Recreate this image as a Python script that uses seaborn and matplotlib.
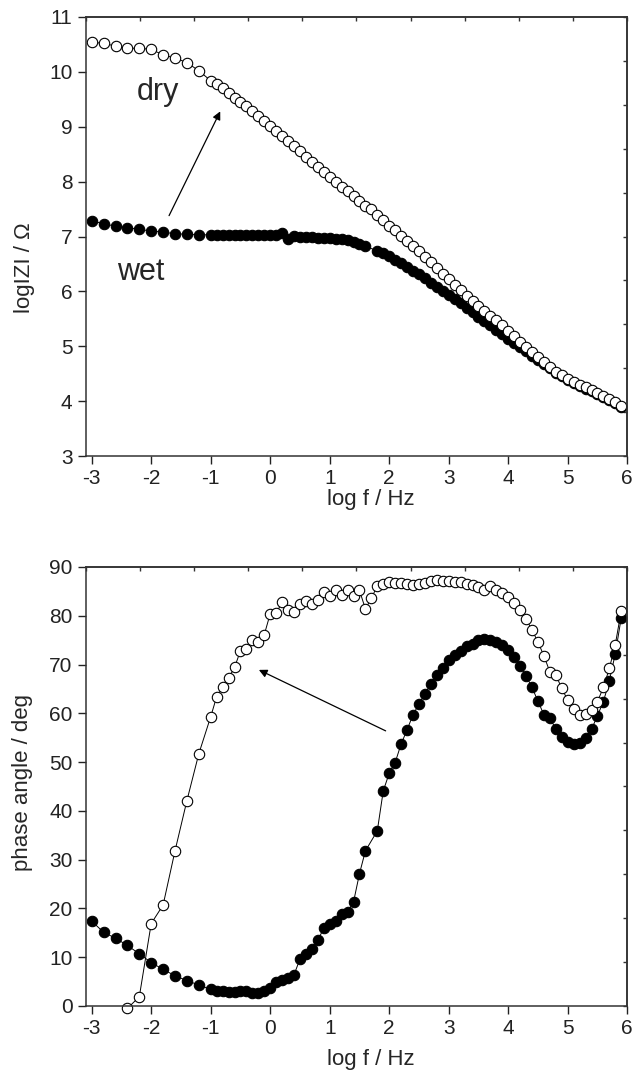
import numpy as np
import pandas as pd
import matplotlib
matplotlib.use("Agg")
import matplotlib.pyplot as plt
import seaborn as sns

# frequency grid (log f / Hz)
logf = [-3.0, -2.8, -2.6, -2.4, -2.2, -2.0, -1.8, -1.6, -1.4, -1.2,
        -1.0, -0.9, -0.8, -0.7, -0.6, -0.5, -0.4, -0.3, -0.2, -0.1,
        0.0, 0.1, 0.2, 0.3, 0.4, 0.5, 0.6, 0.7, 0.8, 0.9,
        1.0, 1.1, 1.2, 1.3, 1.4, 1.5, 1.6, 1.7, 1.8, 1.9,
        2.0, 2.1, 2.2, 2.3, 2.4, 2.5, 2.6, 2.7, 2.8, 2.9,
        3.0, 3.1, 3.2, 3.3, 3.4, 3.5, 3.6, 3.7, 3.8, 3.9,
        4.0, 4.1, 4.2, 4.3, 4.4, 4.5, 4.6, 4.7, 4.8, 4.9,
        5.0, 5.1, 5.2, 5.3, 5.4, 5.5, 5.6, 5.7, 5.8, 5.9]
# wet run has no point at 1.7
logf_wet = [f for f in logf if f != 1.7]

# log|Z| values
z_dry = [10.54, 10.52, 10.47, 10.43, 10.43, 10.41, 10.31, 10.25, 10.17, 10.02,
         9.84, 9.77, 9.70, 9.61, 9.53, 9.45, 9.37, 9.28, 9.19, 9.10,
         9.01, 8.92, 8.83, 8.74, 8.64, 8.55, 8.45, 8.36, 8.26, 8.17,
         8.08, 7.99, 7.90, 7.82, 7.73, 7.64, 7.55, 7.50, 7.40, 7.30,
         7.20, 7.11, 7.01, 6.92, 6.83, 6.73, 6.63, 6.53, 6.42, 6.32,
         6.22, 6.12, 6.02, 5.92, 5.83, 5.74, 5.65, 5.56, 5.47, 5.38,
         5.28, 5.18, 5.08, 4.98, 4.89, 4.80, 4.71, 4.62, 4.54, 4.47,
         4.41, 4.35, 4.30, 4.25, 4.20, 4.15, 4.10, 4.04, 3.98, 3.91]
z_wet = [7.29, 7.23, 7.19, 7.16, 7.13, 7.10, 7.08, 7.05, 7.04, 7.03,
         7.03, 7.03, 7.03, 7.03, 7.02, 7.02, 7.02, 7.02, 7.02, 7.02,
         7.02, 7.03, 7.06, 6.96, 7.01, 7.00, 7.00, 6.99, 6.98, 6.98,
         6.97, 6.96, 6.95, 6.93, 6.90, 6.87, 6.82, 6.74, 6.70,
         6.64, 6.58, 6.52, 6.45, 6.38, 6.31, 6.24, 6.16, 6.08, 6.01,
         5.94, 5.86, 5.78, 5.70, 5.62, 5.54, 5.46, 5.38, 5.30, 5.22,
         5.14, 5.06, 4.99, 4.91, 4.83, 4.75, 4.67, 4.60, 4.52, 4.45,
         4.39, 4.33, 4.28, 4.23, 4.18, 4.13, 4.08, 4.02, 3.96, 3.89]

# phase angle values (dry starts at log f = -2.4)
logf_dry_ph = logf[3:]
ph_dry = [-0.5, 1.9, 16.9, 20.7, 31.8, 42.1, 51.7,
          59.3, 63.4, 65.3, 67.2, 69.4, 72.8, 73.2, 75.0, 74.7, 76.1,
          80.4, 80.5, 82.8, 81.2, 80.8, 82.4, 83.0, 82.4, 83.2, 84.9,
          84.0, 85.2, 84.2, 85.2, 84.0, 85.2, 81.4, 83.6, 86.1, 86.6,
          87.0, 86.8, 86.8, 86.6, 86.4, 86.5, 86.8, 87.2, 87.3, 87.2,
          87.2, 87.0, 86.9, 86.6, 86.2, 85.8, 85.3, 86.1, 85.3, 84.6,
          83.8, 82.6, 81.1, 79.3, 77.1, 74.6, 71.8, 68.5, 67.9, 65.1,
          62.7, 60.8, 59.7, 59.9, 60.7, 62.4, 65.3, 69.2, 74.1, 81.0]
ph_wet = [17.4, 15.1, 13.9, 12.4, 10.7, 8.9, 7.5, 6.2, 5.2, 4.3,
          3.4, 3.1, 3.1, 2.9, 2.9, 3.1, 3.0, 2.7, 2.6, 3.1,
          3.6, 5.0, 5.3, 5.7, 6.4, 9.6, 10.7, 11.6, 13.5, 15.9,
          16.9, 17.4, 18.9, 19.3, 21.3, 27.1, 31.8, 35.9, 44.1,
          47.7, 49.9, 53.7, 56.6, 59.7, 61.9, 64.0, 66.0, 67.9, 69.2,
          70.9, 72.0, 72.8, 73.7, 74.2, 75.0, 75.3, 75.0, 74.7, 74.0,
          73.0, 71.6, 69.7, 67.7, 65.3, 62.5, 59.7, 59.0, 56.8, 55.1,
          54.2, 53.7, 53.9, 54.9, 56.7, 59.5, 62.4, 66.7, 72.2, 79.6]

sns.set_style("ticks")
plt.rcParams['font.family'] = ['Liberation Sans', 'DejaVu Sans']
plt.rcParams['axes.unicode_minus'] = False

fig = plt.figure(figsize=(6.4, 10.75), dpi=100)
ax1 = fig.add_axes([0.134, 0.5758, 0.846, 0.4084])
ax2 = fig.add_axes([0.134, 0.0642, 0.846, 0.4084])

mk = dict(marker='o', markersize=7.5, markeredgewidth=0.8, markeredgecolor='black',
          color='black', linewidth=0.7, estimator=None, sort=False, clip_on=False)


def draw(ax, x_wet, y_wet, x_dry, y_dry):
    sns.lineplot(x=x_wet, y=y_wet, ax=ax, markerfacecolor='black', **mk)
    sns.lineplot(x=x_dry, y=y_dry, ax=ax, markerfacecolor='white', **mk)


def style(ax, ylim, yticks):
    xlim = (-3.1, 6.0)
    ax.set_xlim(*xlim)
    ax.set_ylim(*ylim)
    ax.set_xticks(range(-3, 7))
    ax.set_yticks(yticks)
    ax.tick_params(direction='out', length=6, width=1, labelsize=15,
                   top=False, right=False, colors='#222222')
    for s in ax.spines.values():
        s.set_linewidth(1.1)
        s.set_color('#333333')
    # unlabeled ticks on top and right, 10 equal divisions
    top = ax.secondary_xaxis('top')
    top.set_xticks(np.linspace(xlim[0], xlim[1], 11))
    top.tick_params(direction='in', length=3, width=1, labeltop=False, colors='#333333')
    top.spines['top'].set_linewidth(1.1)
    right = ax.secondary_yaxis('right')
    right.set_yticks(np.linspace(ylim[0], ylim[1], 11))
    right.tick_params(direction='in', length=3, width=1, labelright=False, colors='#333333')
    right.spines['right'].set_linewidth(1.1)


draw(ax1, logf_wet, z_wet, logf, z_dry)
style(ax1, (3, 11), range(3, 12))
draw(ax2, logf_wet, ph_wet, logf_dry_ph, ph_dry)
style(ax2, (0, 90), range(0, 91, 10))

ax1.set_xlabel('log f / Hz', fontsize=16)
ax1.set_ylabel('logIZI / \u03a9', fontsize=16)
ax2.set_xlabel('log f / Hz', fontsize=16)
ax2.set_ylabel('phase angle / deg', fontsize=16)
ax1.xaxis.set_label_coords(0.527, -0.076)
ax2.xaxis.set_label_coords(0.527, -0.098)
ax1.yaxis.set_label_coords(-0.094, 0.43)
ax2.yaxis.set_label_coords(-0.098, 0.51)

ax1.text(-2.24, 9.49, 'dry', fontsize=22, ha='left', va='baseline')
ax1.text(-2.58, 6.21, 'wet', fontsize=22, ha='left', va='baseline')

arrow = dict(arrowstyle='-|>', color='black', lw=0.9, mutation_scale=12,
             shrinkA=0, shrinkB=0)
ax1.annotate('', xy=(-0.84, 9.28), xytext=(-1.70, 7.38), arrowprops=arrow)
ax2.annotate('', xy=(-0.19, 68.9), xytext=(1.94, 56.4), arrowprops=arrow)

fig.savefig('out.png', dpi=100)
